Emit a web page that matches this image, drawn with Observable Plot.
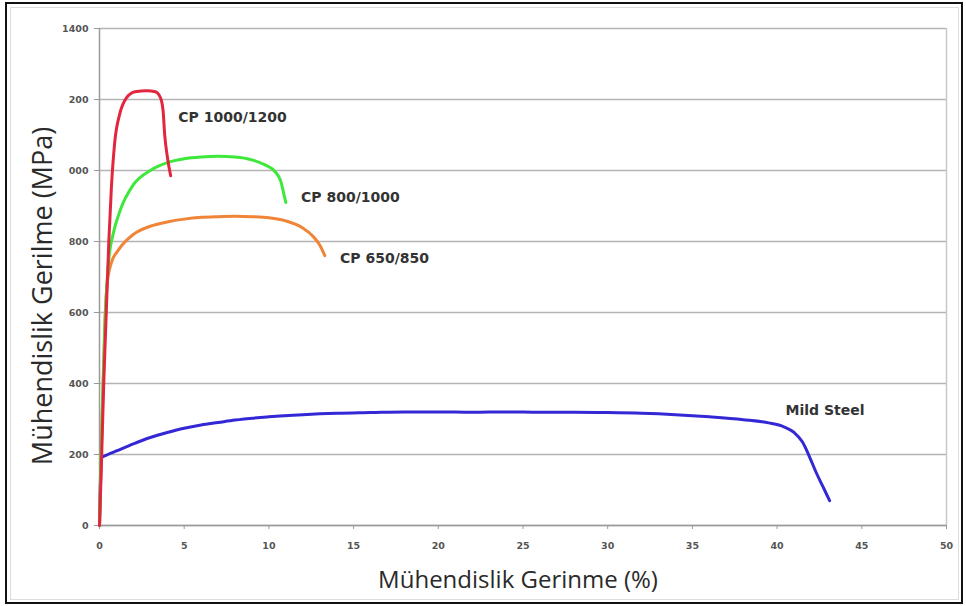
<!DOCTYPE html>
<html>
<head>
<meta charset="utf-8">
<script src="https://cdn.jsdelivr.net/npm/d3@7"></script>
<script src="https://cdn.jsdelivr.net/npm/@observablehq/plot@0.6"></script>
<style>
  html, body { margin: 0; padding: 0; background: #fff; }
  #wrap { position: relative; width: 966px; height: 606px; }
  #outer { position: absolute; left: 5px; top: 2px; width: 954px; height: 598px; border: 2px solid #111; box-sizing: content-box; pointer-events: none; }
  #inner { position: absolute; left: 10px; top: 7px; width: 947px; height: 591px; border: 1px solid #ddd; pointer-events: none; }
  #chart { position: absolute; left: 0; top: 0; }
</style>
</head>
<body>
<div id="wrap">
  <div id="chart"></div>
  <div id="inner"></div>
  <div id="outer"></div>
</div>
<script>
// Engineering stress–strain curves: [strain %, stress MPa]
const cp1000 = [[0,0],[0.1,150],[0.25,400],[0.4,600],[0.55,800],[0.7,950],[0.9,1080],[1.2,1160],[1.6,1205],[2.1,1222],[2.8,1225],[3.3,1222],[3.6,1205],[3.75,1170],[3.85,1100],[4.0,1040],[4.2,985]];
const cp800 = [[0,0],[0.15,300],[0.35,600],[0.55,750],[0.8,820],[1.2,885],[2,960],[3,1000],[4,1022],[5,1033],[6,1038],[7,1040],[8,1038],[9,1030],[9.8,1015],[10.4,995],[10.7,970],[10.9,930],[11.0,910]];
const cp650 = [[0,0],[0.15,300],[0.3,550],[0.45,680],[0.7,740],[1.1,775],[2,820],[3,843],[4,855],[5,863],[6,868],[7,870],[8,871],[9,870],[10,867],[11,858],[12,838],[12.6,815],[13,790],[13.3,760]];
const mildSteel = [[0,0],[0.1,190],[0.5,200],[1,210],[2,230],[3,248],[4,262],[5,274],[6,283],[7,290],[8,297],[10,306],[12,312],[14,316],[16,318],[18,320],[20,320],[22,319],[24,320],[26,319],[28,319],[30,318],[32,316],[34,312],[36,306],[38,298],[39.5,289],[40.4,278],[41.0,262],[41.5,235],[41.9,195],[42.3,150],[42.7,110],[43.1,70]];

// Curve labels: name, strain, stress
const curveLabels = [
  {name: "CP 1000/1200", x: 4.65, y: 1150},
  {name: "CP 800/1000", x: 11.9, y: 924},
  {name: "CP 650/850", x: 14.2, y: 752},
  {name: "Mild Steel", x: 40.5, y: 324}
];

const xTicks = [0,5,10,15,20,25,30,35,40,45,50];
const yTicks = [0,200,400,600,800,1000,1200,1400];
const yTickLabels = ["0","200","400","600","800","000","200","1400"];

const xTitle = "Mühendislik Gerinme (%)";
const yTitle = "Mühendislik Gerilme (MPa)";

const series = [
  {data: mildSteel, color: "#3427d6"},
  {data: cp650, color: "#f08538"},
  {data: cp800, color: "#3ee83a"},
  {data: cp1000, color: "#e3263d"}
];

const tickFont = {fontSize: 9.5, fontWeight: "bold", fill: "#555", fontFamily: "DejaVu Sans"};

const chart = Plot.plot({
  width: 966,
  height: 606,
  marginLeft: 99,
  marginRight: 20,
  marginTop: 28,
  marginBottom: 81,
  style: {background: "transparent", overflow: "visible"},
  x: {domain: [0, 50]},
  y: {domain: [0, 1400]},
  marks: [
    Plot.gridY(yTicks, {stroke: "#b4b4b4", strokeOpacity: 1, strokeWidth: 1.5}),
    Plot.ruleX([50], {stroke: "#c8c8c8", strokeWidth: 1.5}),
    Plot.ruleX([0], {stroke: "#9a9a9a", strokeWidth: 1.5}),
    Plot.ruleY([0], {stroke: "#9a9a9a", strokeWidth: 1.5}),
    Plot.axisY(yTicks, {
      tickSize: 5, tickPadding: 6, stroke: "#9a9a9a",
      tickFormat: (d) => yTickLabels[yTicks.indexOf(d)],
      label: null, ...tickFont
    }),
    Plot.axisX(xTicks, {
      tickSize: 4, tickPadding: 13, stroke: "#9a9a9a",
      label: null, ...tickFont
    }),
    ...series.map(s => Plot.line(s.data, {
      x: d => d[0], y: d => d[1],
      stroke: s.color, strokeWidth: 3, curve: "monotone-x"
    })),
    Plot.text(curveLabels, {
      x: "x", y: "y", text: "name", textAnchor: "start",
      fontSize: 14, fontWeight: "bold", fill: "#333", fontFamily: "DejaVu Sans"
    }),
    Plot.text([xTitle], {
      frameAnchor: "bottom", dx: -5, dy: 62, text: d => d,
      textAnchor: "middle", fontSize: 24, fill: "#2a2a2a", fontFamily: "Open Sans"
    }),
    Plot.text([yTitle], {
      frameAnchor: "left", dx: -56, dy: 19, rotate: -90, text: d => d,
      textAnchor: "middle", lineAnchor: "middle",
      fontSize: 27, fill: "#2a2a2a", fontFamily: "Open Sans"
    })
  ]
});

document.getElementById("chart").appendChild(chart);
</script>
</body>
</html>
